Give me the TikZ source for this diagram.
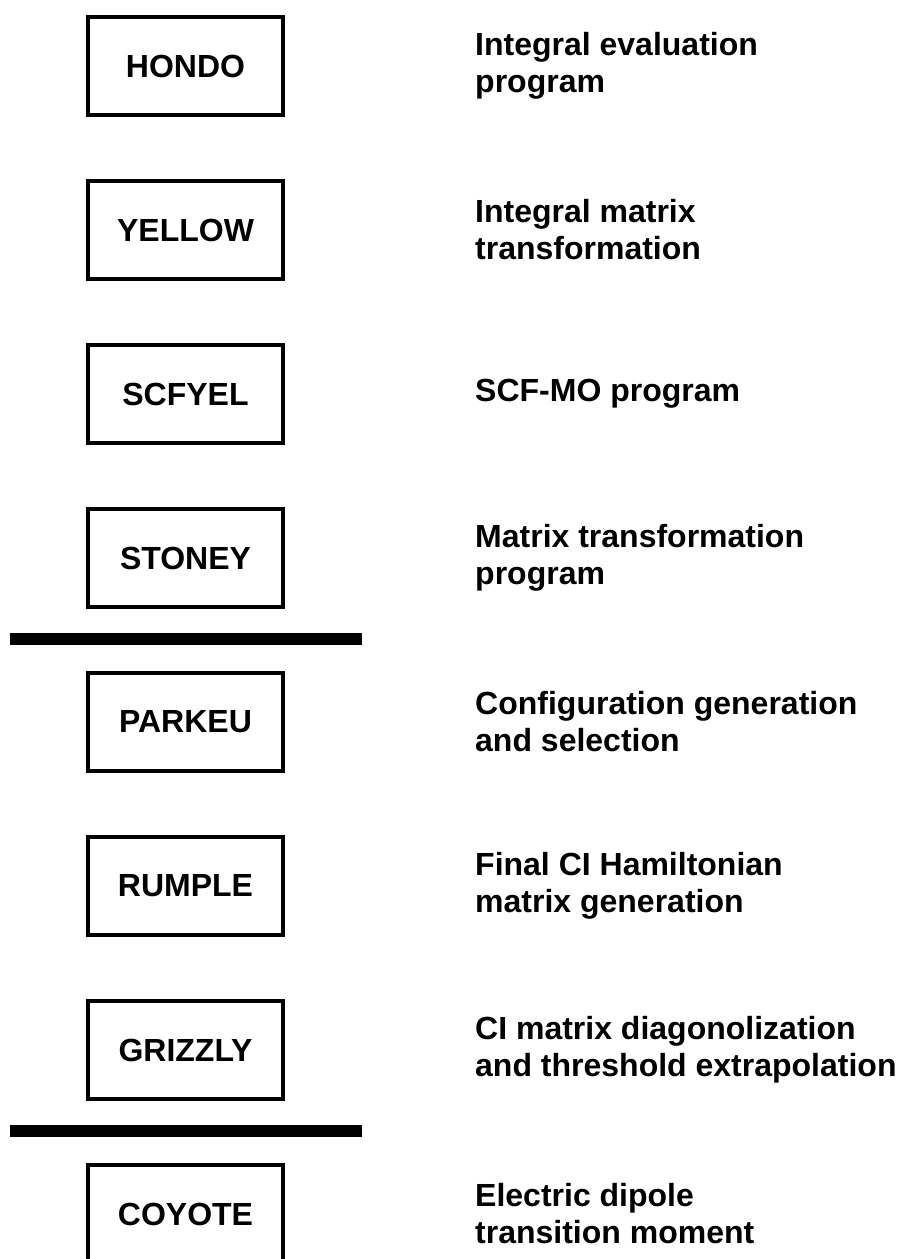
\documentclass[tikz,border=0pt]{standalone}
\usepackage{fontspec}
\setmainfont{Liberation Sans}
\usetikzlibrary{positioning}
\tikzset{
  progbox/.style={
    draw=black, line width=4pt, fill=white,
    minimum width=195pt, minimum height=98pt, inner sep=0pt,
    font=\fontsize{32}{37}\selectfont\bfseries
  },
  desc/.style={
    inner sep=0pt, align=left,
    font=\fontsize{32}{37}\selectfont\bfseries
  },
  divider/.style={line width=12.5pt, draw=black}
}
\begin{document}
\begin{tikzpicture}[x=1pt,y=-1pt,node distance=62pt and 190pt]
    \useasboundingbox (0,0) rectangle (905,1259);
    \node[progbox] (hondo) at (185.5,66) {HONDO};
    \node[progbox,below=of hondo] (yellow) {YELLOW};
    \node[progbox,below=of yellow] (scfyel) {SCFYEL};
    \node[progbox,below=of scfyel] (stoney) {STONEY};
    \node[progbox,below=of stoney] (parkeu) {PARKEU};
    \node[progbox,below=of parkeu] (rumple) {RUMPLE};
    \node[progbox,below=of rumple] (grizzly) {GRIZZLY};
    \node[progbox,below=of grizzly] (coyote) {COYOTE};
    % descriptions
    \node[desc,right=of hondo] (hondoTxt) {Integral evaluation\\program};
    \node[desc,right=of yellow] (yellowTxt) {Integral matrix\\transformation};
    \node[desc,right=of scfyel] (scfyelTxt) {SCF-MO program};
    \node[desc,right=of stoney] (stoneyTxt) {Matrix transformation\\program};
    \node[desc,right=of parkeu] (parkeuTxt) {Configuration generation\\and selection};
    \node[desc,right=of rumple] (rumpleTxt) {Final CI Hamiltonian\\matrix generation};
    \node[desc,right=of grizzly] (grizzlyTxt) {CI matrix diagonolization\\and threshold extrapolation};
    \node[desc,right=of coyote] (coyoteTxt) {Electric dipole\\transition moment};
    % stage separators
    \draw[divider] (10,639) -- (362,639);
    \draw[divider] (10,1131) -- (362,1131);
  \end{tikzpicture}
\end{document}
